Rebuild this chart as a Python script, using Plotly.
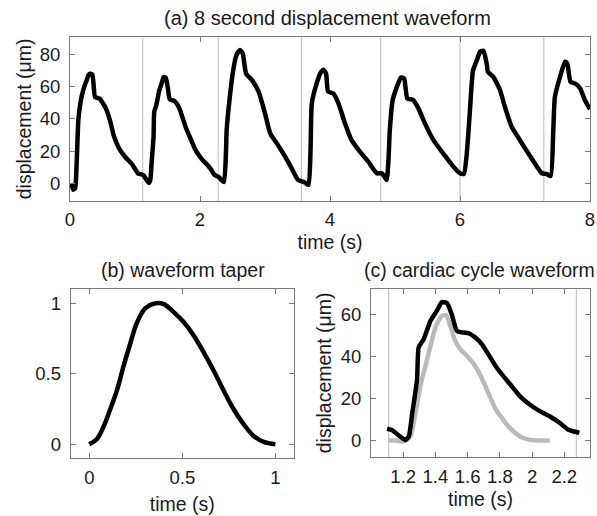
import plotly.graph_objects as go

# (a) 8 second displacement record
time_a = [0.02, 0.05, 0.08, 0.10, 0.128, 0.15, 0.18, 0.22, 0.257, 0.282, 0.308, 0.343, 0.359, 0.385,
          0.42, 0.46, 0.50, 0.54, 0.615, 0.67, 0.718, 0.78, 0.846, 0.95, 1.00, 1.05, 1.10, 1.132,
          1.173, 1.214, 1.235, 1.256, 1.286, 1.296, 1.327, 1.369, 1.41, 1.44, 1.472, 1.502, 1.533,
          1.574, 1.605, 1.646, 1.688, 1.728, 1.78, 1.821, 1.873, 1.924, 1.986, 2.048, 2.109, 2.171,
          2.222, 2.294, 2.33, 2.37, 2.40, 2.41, 2.46, 2.51, 2.56, 2.615, 2.657, 2.69, 2.71, 2.80,
          2.90, 3.00, 3.08, 3.20, 3.31, 3.41, 3.51, 3.58, 3.615, 3.67, 3.70, 3.72, 3.795, 3.86, 3.90,
          3.94, 3.97, 4.05, 4.13, 4.23, 4.33, 4.46, 4.59, 4.72, 4.80, 4.87, 4.90, 4.92, 4.965, 5.03,
          5.09, 5.14, 5.19, 5.28, 5.36, 5.46, 5.59, 5.72, 5.82, 5.92, 6.00, 6.06, 6.10, 6.15, 6.20,
          6.26, 6.31, 6.36, 6.41, 6.43, 6.51, 6.615, 6.69, 6.795, 6.92, 7.05, 7.15, 7.26, 7.33,
          7.395, 7.435, 7.46, 7.54, 7.615, 7.65, 7.70, 7.77, 7.85, 7.92, 8.00]
disp_a = [0, -4, -3, 10, 39, 47, 54, 60, 64, 67, 68, 67.5, 63, 53.5,
          53, 52.5, 50, 47.5, 39, 30, 24.8, 20, 16.5, 12, 9, 6, 5.6, 4.9,
          2.4, 0.3, 2, 13, 29, 44.4, 48.3, 57, 62, 66, 65.6, 60, 52.3,
          51.5, 51.2, 49.2, 46, 41.2, 34.8, 30.8, 26, 21.2, 17.2, 14, 11.6, 8.5,
          5.3, 3.7, 2, 0.8, 20, 33, 54, 70, 79.6, 82.7, 80.6, 72, 68, 64,
          57, 43.4, 31, 23.7, 16.5, 9.3, 2, 1, 0.4, -1, 20, 49.6, 62, 69, 70.5,
          68, 57, 55.8, 49.6, 37.2, 26.9, 19.6, 13.4, 6.2, 6.2, 2, 15, 33, 51.7, 60,
          65.7, 65, 52.7, 51.7, 46.5, 37.2, 26.9, 19.6, 14.4, 9.3, 6.2, 5.8, 16.5, 43.4, 70,
          76.5, 81.7, 82.3, 74.4, 69.2, 66.2, 57.9, 47.5, 35.1, 26.9, 18.6, 12.4, 6.2, 5.8,
          4.5, 33, 53.7, 66.2, 75.5, 74.4, 63, 62, 58.9, 51.7, 46]
cycle_bounds = [1.12, 2.28, 3.56, 4.78, 6.0, 7.29]

# (b) taper window
time_b = [0, 0.04, 0.075, 0.11, 0.148, 0.183, 0.219, 0.255, 0.30, 0.354, 0.40, 0.452, 0.506,
          0.56, 0.614, 0.668, 0.722, 0.775, 0.829, 0.883, 0.937, 1.0]
taper_b = [0, 0.036, 0.12, 0.24, 0.38, 0.55, 0.71, 0.86, 0.964, 1.0, 0.995, 0.94, 0.869,
           0.774, 0.654, 0.524, 0.381, 0.25, 0.143, 0.059, 0.016, 0]

# (c) one cardiac cycle: raw (black, taken from (a)) and tapered (gray)
cycle_start, cycle_end = 1.10, 2.30
time_c_taper = [1.111, 1.16, 1.204, 1.245, 1.276, 1.307, 1.338, 1.369, 1.40, 1.44, 1.467, 1.492,
                1.523, 1.554, 1.595, 1.646, 1.686, 1.728, 1.77, 1.811, 1.862, 1.924, 1.986, 2.05, 2.11]
disp_c_taper = [0, 0, -0.5, 2, 13, 26, 35.6, 45, 54, 59.5, 59.8, 54.7,
                47.5, 43.6, 40.4, 35.6, 30, 22.8, 15.6, 10.9, 6, 2, 0.3, 0, 0]
cycle_c = [1.11, 2.275]

time_c = [t for t in time_a if cycle_start <= t <= cycle_end]
disp_c = [d for t, d in zip(time_a, disp_a) if cycle_start <= t <= cycle_end]

FONT = "Liberation Sans, Arial, sans-serif"
W, H = 597, 516


def px_x(p):
    return p / W


def px_y(p):
    return 1 - p / H


axis_style = dict(
    showline=True, linecolor="#7a7a7a", linewidth=1, mirror="ticks",
    ticks="inside", ticklen=5, tickcolor="#7a7a7a", showgrid=False, zeroline=False,
    automargin=False, ticklabelstandoff=5,
    tickfont=dict(family=FONT, size=18.5, color="#1a1a1a"),
    title_font=dict(family=FONT, size=19.5, color="#1a1a1a"),
)
x_style = dict(axis_style, ticklabelstandoff=2)

line_k = dict(color="black", width=4.5, shape="spline", smoothing=0.5)

fig = go.Figure()
fig.add_trace(go.Scatter(x=time_a, y=disp_a, mode="lines", xaxis="x", yaxis="y",
                         line=line_k, showlegend=False))
fig.add_trace(go.Scatter(x=time_b, y=taper_b, mode="lines", xaxis="x2", yaxis="y2",
                         line=dict(color="black", width=4.5, shape="spline"), showlegend=False))
fig.add_trace(go.Scatter(x=time_c_taper, y=disp_c_taper, mode="lines", xaxis="x3", yaxis="y3",
                         line=dict(color="#bababa", width=4.5, shape="spline", smoothing=0.5),
                         showlegend=False))
fig.add_trace(go.Scatter(x=time_c, y=disp_c, mode="lines", xaxis="x3", yaxis="y3",
                         line=line_k, showlegend=False))

for b in cycle_bounds:
    fig.add_shape(type="line", xref="x", yref="y domain", x0=b, x1=b, y0=0, y1=1,
                  line=dict(color="#bcbcbc", width=1), layer="below")
for b in cycle_c:
    fig.add_shape(type="line", xref="x3", yref="y3 domain", x0=b, x1=b, y0=0, y1=1,
                  line=dict(color="#bcbcbc", width=1), layer="below")

fig.update_layout(
    width=W, height=H, margin=dict(l=0, r=0, t=0, b=0),
    paper_bgcolor="white", plot_bgcolor="white",
    xaxis=dict(x_style, domain=[px_x(70), px_x(590)], range=[0, 8], tickvals=[0, 2, 4, 6, 8],
               anchor="y", title=dict(text="time (s)", standoff=6)),
    yaxis=dict(axis_style, domain=[px_y(201), px_y(36.7)], range=[-11, 91],
               tickvals=[0, 20, 40, 60, 80], anchor="x",
               title=dict(text="displacement (\u03bcm)", standoff=2)),
    xaxis2=dict(x_style, domain=[px_x(70.7), px_x(294)], range=[-0.1, 1.1], tickvals=[0, 0.5, 1],
                anchor="y2", title=dict(text="time (s)", standoff=10)),
    yaxis2=dict(axis_style, domain=[px_y(458.3), px_y(289.3)], range=[-0.1, 1.1],
                tickvals=[0, 0.5, 1], anchor="x2"),
    xaxis3=dict(x_style, domain=[px_x(371), px_x(590)], range=[1.0, 2.36],
                tickvals=[1.2, 1.4, 1.6, 1.8, 2.0, 2.2], ticktext=["1.2", "1.4", "1.6", "1.8", "2", "2.2"],
                anchor="y3", title=dict(text="time (s)", standoff=6)),
    yaxis3=dict(axis_style, domain=[px_y(457.3), px_y(288.5)], range=[-8, 72.5],
                tickvals=[0, 20, 40, 60], anchor="x3",
                title=dict(text="displacement (\u03bcm)", standoff=3)),
)

titles = [("(a) 8 second displacement waveform", 327, 18, 20),
          ("(b) waveform taper", 183, 270, 19.5),
          ("(c) cardiac cycle waveform", 479, 270, 19.5)]
for text, cx, cy, size in titles:
    fig.add_annotation(text=text, x=px_x(cx), y=px_y(cy), xref="paper", yref="paper",
                       showarrow=False, xanchor="center", yanchor="middle",
                       font=dict(family=FONT, size=size, color="#1a1a1a"))

# the page's default body margin would shift the figure by 8px
fig.write_html("out.html", config={"displayModeBar": False},
               post_script="document.body.style.margin='0';")
